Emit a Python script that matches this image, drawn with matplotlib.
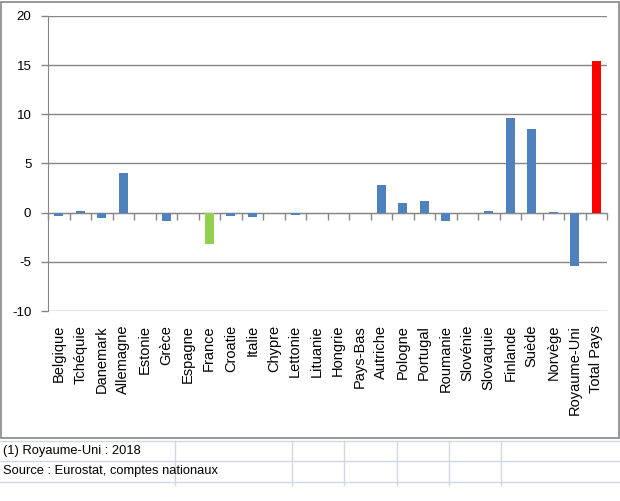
import numpy as np
import matplotlib
matplotlib.use("Agg")
import matplotlib.pyplot as plt
from matplotlib.patches import Rectangle
from matplotlib.lines import Line2D

pays = ["Belgique", "Tchéquie", "Danemark", "Allemagne", "Estonie", "Grèce",
        "Espagne", "France", "Croatie", "Italie", "Chypre", "Lettonie",
        "Lituanie", "Hongrie", "Pays-Bas", "Autriche", "Pologne", "Portugal",
        "Roumanie", "Slovénie", "Slovaquie", "Finlande", "Suède", "Norvège",
        "Royaume-Uni", "Total Pays"]
valeurs = [-0.3, 0.13, -0.5, 4.0, 0.0, -0.8,
           0.0, -3.15, -0.3, -0.4, 0.0, -0.2,
           0.0, 0.0, 0.0, 2.85, 1.0, 1.2,
           -0.8, 0.0, 0.2, 9.66, 8.54, 0.1,
           -5.4, 15.46]
yticks = [-10, -5, 0, 5, 10, 15, 20]
notes = ["(1) Royaume-Uni : 2018", "Source : Eurostat, comptes nationaux"]

bleu = "#4F81BD"
couleurs = [bleu] * len(pays)
couleurs[pays.index("France")] = "#92D050"
couleurs[pays.index("Total Pays")] = "#FF0000"
gris = "#868686"

plt.rcParams["font.family"] = ["Liberation Sans", "DejaVu Sans"]

fig = plt.figure(figsize=(6.2, 5.01), dpi=100)
ax = fig.add_axes([48 / 620, 1 - 311 / 501, 559 / 620, 295 / 501])

x = np.arange(len(pays))
ax.bar(x, valeurs, width=0.42, color=couleurs, zorder=3)

ax.set_xlim(-0.5, len(pays) - 0.5)
ax.set_ylim(-10, 20)
ax.set_yticks(yticks)
ax.set_yticklabels([str(v) for v in yticks], fontsize=9.5)
ax.yaxis.grid(True, color=gris, linewidth=1)
ax.set_axisbelow(True)

ax.set_xticks(x)
ax.set_xticklabels(pays, rotation=90, fontsize=10.5, va="top")
ax.tick_params(axis="x", length=0, pad=10)
ax.tick_params(axis="y", length=5, color=gris, width=1, pad=7)

for s in ["top", "right", "bottom"]:
    ax.spines[s].set_visible(False)
ax.spines["left"].set_color(gris)

# axe des categories au niveau du zero
sec = ax.secondary_xaxis(10 / 30)
sec.set_xticks(np.arange(len(pays) + 1) - 0.5)
sec.set_xticklabels([])
sec.tick_params(axis="x", direction="out", length=5, color=gris, width=1)
sec.spines["bottom"].set_color(gris)

# cadre du graphique
fig.patches.append(Rectangle((0.5 / 620, 1 - 438 / 501), 618.5 / 620, 436 / 501,
                             transform=fig.transFigure, fill=False,
                             edgecolor=gris, linewidth=1.2))

# grille du tableur sous le graphique
cell = "#D0D7E5"
for yy in [441, 461, 482]:
    fig.lines.append(Line2D([0, 1], [1 - yy / 501] * 2, transform=fig.transFigure,
                            color=cell, linewidth=1))
for xx in [175, 292, 344, 397, 449, 501]:
    fig.lines.append(Line2D([xx / 620] * 2, [1 - 441 / 501, 1 - 485 / 501],
                            transform=fig.transFigure, color=cell, linewidth=1))

fig.text(3 / 620, 1 - 451 / 501, notes[0], fontsize=9.3, va="center")
fig.text(3 / 620, 1 - 471 / 501, notes[1], fontsize=9.3, va="center")

fig.savefig("out.png", dpi=100)
